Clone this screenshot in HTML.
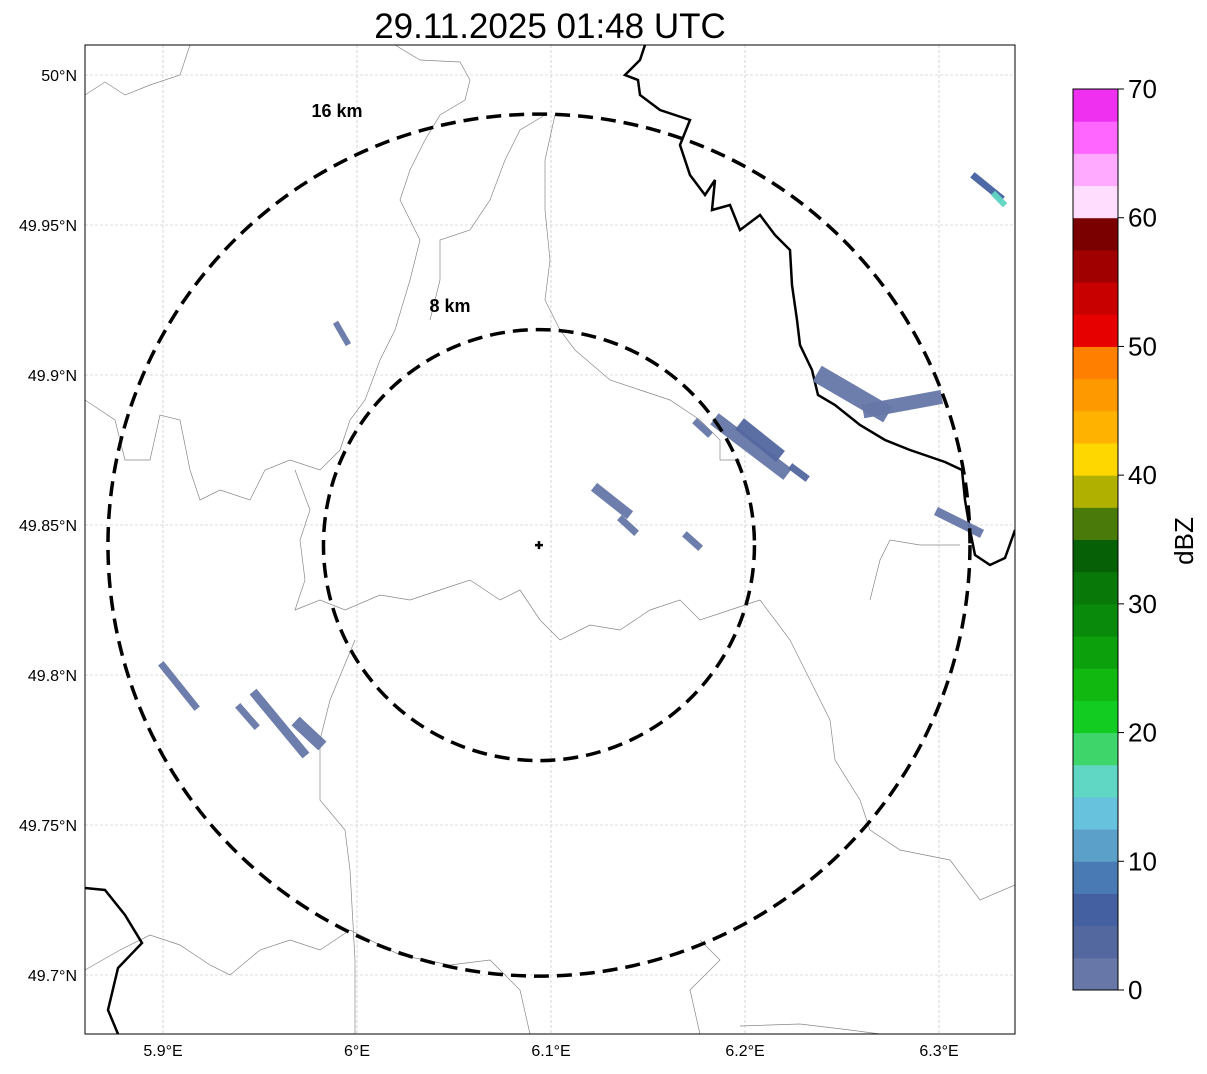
<!DOCTYPE html>
<html><head><meta charset="utf-8"><style>
body{margin:0;background:#fff;font-family:"Liberation Sans",sans-serif}
svg text{font-family:"Liberation Sans",sans-serif}
</style></head><body>
<svg id="c" width="1207" height="1069" xmlns="http://www.w3.org/2000/svg">
<text x="550" y="38" font-size="35" text-anchor="middle">29.11.2025 01:48 UTC</text>
<g id="plot"></g>
<rect x="85" y="45" width="930" height="989" fill="none" stroke="#000" stroke-width="1"/>
<g id="cbar"></g>
<text x="0" y="0" font-size="26" transform="translate(1193,541) rotate(-90)" text-anchor="middle">dBZ</text>
</svg>
<script>
const lonTicks=[5.9,6.0,6.1,6.2,6.3];
const lonLabels=["5.9°E","6°E","6.1°E","6.2°E","6.3°E"];
const latTicks=[50,49.95,49.9,49.85,49.8,49.75,49.7];
const latLabels=["50°N","49.95°N","49.9°N","49.85°N","49.8°N","49.75°N","49.7°N"];
const cbLevels=[0,10,20,30,40,50,60,70];
const cbColors=["#6677a8","#5468a0","#4460a0","#4a7ab4","#5aa0c8","#66c2dd","#60d6c4","#3ed66a","#12cc22","#10b810","#0ca00c","#0a8a0a","#087808","#066006","#4a7a0a","#b0b000","#ffd700","#ffb300","#ff9900","#ff7f00","#e60000","#c80000","#a00000","#7a0000","#ffddff","#ffaaff","#ff66ff","#f030f0"];
const ringKm=[8,16];
const centerLon=6.0938, centerLat=49.8433;
// echoes: lon1,lat1,lon2,lat2,dBZ
const echoLon1=[5.9897,5.9,5.9397,5.9479,5.9706,6.1242,6.1366,6.1701,6.1753,6.1871,6.2,6.2247,6.2412,6.2644,6.3005,6.3186,6.3289];
const echoLat1=[49.9167,49.803,49.789,49.7933,49.7833,49.8617,49.8517,49.8463,49.884,49.884,49.8823,49.869,49.899,49.8883,49.854,49.966,49.96];
const echoLon2=[5.9948,5.9165,5.9474,5.9722,5.9799,6.1387,6.1428,6.1758,6.1809,6.2191,6.2155,6.2309,6.2696,6.2979,6.3201,6.3314,6.333];
const echoLat2=[49.911,49.7897,49.7833,49.7743,49.7777,49.8543,49.848,49.843,49.8807,49.8683,49.8743,49.866,49.8883,49.8923,49.8477,49.9593,49.9573];
const echoVal=[1,1,1,1,1,1,1,1,1,1,4,4,1,1,1,6,16];
const echoW=[6,7,7,9,12,10,7,7,7,14,14,7,18,14,9,7,6];

const X=lon=>163+(lon-5.9)*1940;
const Y=lat=>75+(50-lat)*3000;
const NS="http://www.w3.org/2000/svg";
const P=document.getElementById('plot');
function mk(tag,attrs,parent){const e=document.createElementNS(NS,tag);for(const k in attrs)e.setAttribute(k,attrs[k]);parent.appendChild(e);return e;}
const cp=mk('clipPath',{id:'clp'},P);mk('rect',{x:85,y:45,width:930,height:989},cp);
const G=mk('g',{'clip-path':'url(#clp)'},P);
lonTicks.forEach((v,i)=>{
 const l=mk('line',{x1:X(v),x2:X(v),y1:45,y2:1034,stroke:'#bbb','stroke-width':0.6,'stroke-dasharray':'3,2'},G);
 
 
 const t=mk('text',{x:X(v),y:1056,'font-size':16,'text-anchor':'middle'},P);t.textContent=lonLabels[i];
 
 
});
latTicks.forEach((v,i)=>{
 const l=mk('line',{x1:85,x2:1015,y1:Y(v),y2:Y(v),stroke:'#bbb','stroke-width':0.6,'stroke-dasharray':'3,2'},G);
 
 
 const t=mk('text',{x:77,y:Y(v)+6,'font-size':16,'text-anchor':'end'},P);t.textContent=latLabels[i];
 
 
});
const thin=["M85,95 L105,82 L125,95 L150,85 L180,75 L190,45","M395,45 L420,60 L460,62 L470,80 L465,100 L440,115 L425,140 L410,170 L400,200 L420,240 L410,280 L395,330 L380,360 L365,400 L350,420 L340,450 L320,470 L290,460 L265,470 L250,500 L220,490 L200,500 L190,470 L180,420 L160,415 L150,460 L125,460 L115,420 L85,400",
"M555,115 L545,160 L545,210 L550,260 L545,300 L560,330 L575,350 L610,380 L640,390 L670,400 L700,420 L720,440 L720,460 L740,460",
"M545,115 L520,130 L505,160 L490,200 L470,230 L440,240 L440,280 L430,320",
"M295,470 L310,510 L300,540 L305,580 L295,610 L320,600 L345,610 L380,595 L410,600 L440,590 L470,580 L500,600 L520,590 L540,620 L560,640 L590,625 L620,630 L650,610 L680,600 L700,620 L730,610 L760,600",
"M355,640 L330,700 L320,740 L320,800 L345,830 L350,870 L355,960 L355,1034",
"M85,970 L120,950 L150,935 L180,945 L210,965 L230,975 L260,950 L290,940 L320,950 L350,930 L400,955 L450,965 L490,960 L520,990 L530,1034",
"M760,600 L790,640 L810,680 L830,720 L835,760 L860,800 L870,830 L900,850 L950,860 L980,900 L1015,885",
"M870,600 L880,560 L890,540 L920,545 L960,545",
"M700,940 L720,960 L690,990 L700,1034",
"M740,1026 L800,1024 L850,1030 L880,1034"];
thin.forEach(d=>{const p=mk('path',{d:d,fill:'none',stroke:'#888','stroke-width':0.7},G);});
const thick=["M645,45 L640,60 L625,75 L638,80 L640,95 L660,110 L690,120 L680,145 L690,175 L705,195 L715,180 L712,210 L730,205 L740,230 L760,215 L775,235 L790,250 L792,285 L797,320 L800,345 L812,370 L818,395 L835,405 L860,425 L885,440 L910,450 L945,462 L962,470 L965,500 L970,530 L975,555 L990,565 L1005,558 L1015,530",
"M85,888 L105,890 L125,915 L142,943 L118,968 L108,1010 L118,1034"];
thick.forEach(d=>{const p=mk('path',{d:d,fill:'none',stroke:'#000','stroke-width':2.5},G);});
function colorFor(v){return cbColors[Math.max(0,Math.min(cbColors.length-1,Math.floor(v/2.5)))];}
echoVal.forEach((v,i)=>{
 const l=mk('line',{x1:X(echoLon1[i]),y1:Y(echoLat1[i]),x2:X(echoLon2[i]),y2:Y(echoLat2[i]),stroke:colorFor(v),'stroke-width':echoW[i],'stroke-linecap':'square',opacity:0.95},G);
 
 
});
const cx=X(centerLon),cy=Y(centerLat),pxPerKm=431/16;
ringKm.forEach(k=>{
 const r=k*pxPerKm;
 const c=mk('circle',{cx:cx,cy:cy,r:r,fill:'none',stroke:'#000','stroke-width':3.5,'stroke-dasharray':'15,8'},G);
 
 
 const t=mk('text',{x:k==16?337:450,y:k==16?117:312,'font-size':18,'font-weight':'bold','text-anchor':'middle'},G);
 t.textContent=k+' km';
 
 
});
const m=mk('path',{d:`M${cx-4},${cy} H${cx+4} M${cx},${cy-4} V${cy+4}`,stroke:'#000','stroke-width':2.5},G);


const CB=document.getElementById('cbar');
const cbTop=89,cbBot=990,cbH=cbBot-cbTop,cbMax=70;
const CY=v=>cbBot-v/cbMax*cbH;
cbColors.forEach((c,i)=>{
 const r=mk('rect',{x:1073,y:CY((i+1)*2.5),width:45,height:cbH/cbColors.length+0.5,fill:c},CB);
 
 
});
mk('rect',{x:1073,y:cbTop,width:45,height:cbH,fill:'none',stroke:'#000','stroke-width':1},CB);
cbLevels.forEach(v=>{
 mk('line',{x1:1118,x2:1124,y1:CY(v),y2:CY(v),stroke:'#000'},CB);
 const t=mk('text',{x:1128,y:CY(v)+9,'font-size':26},CB);t.textContent=v;
 
 
});
</script>
</body></html>
